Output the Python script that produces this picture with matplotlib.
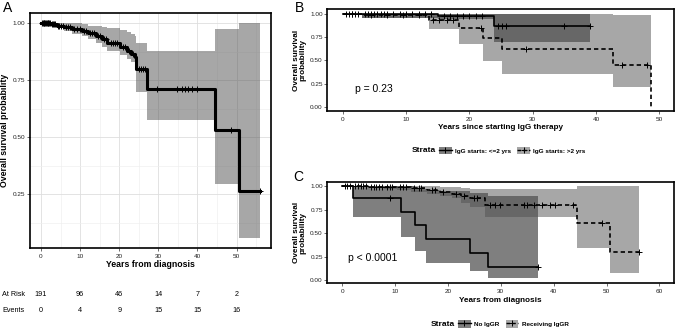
import numpy as np
import matplotlib
matplotlib.use('Agg')
import matplotlib.pyplot as plt
from matplotlib.patches import Patch
from matplotlib.lines import Line2D
from matplotlib.transforms import blended_transform_factory

plt.rcParams['font.family'] = ['Liberation Sans', 'DejaVu Sans']

# ---- Panel A: whole cohort ----
a_time = [0, 2.5, 4.0, 6.0, 8.0, 10.5, 12.0, 14.0, 15.5, 17.0, 20.3, 22.0, 23.0, 24.0, 24.4, 27.1, 44.4, 50.6, 56.0]
a_surv = [1.0, 0.995, 0.99, 0.982, 0.975, 0.967, 0.957, 0.945, 0.93, 0.915, 0.895, 0.88, 0.865, 0.853, 0.80, 0.712, 0.534, 0.267, 0.267]
a_upper = [1.0, 1.0, 1.0, 1.0, 1.0, 0.995, 0.99, 0.99, 0.985, 0.98, 0.97, 0.96, 0.955, 0.945, 0.912, 0.88, 0.974, 1.0, 1.0]
a_lower = [1.0, 0.985, 0.978, 0.965, 0.955, 0.945, 0.93, 0.915, 0.895, 0.88, 0.86, 0.845, 0.83, 0.82, 0.70, 0.576, 0.295, 0.06, 0.06]
a_censor = [0.3, 0.5, 0.7, 0.9, 1.1, 1.3, 1.5, 1.7, 1.9, 2.1, 2.3, 2.7, 3.0, 3.3, 3.6, 4.3, 4.7, 5.2, 5.6,
            6.5, 7.0, 7.5, 8.5, 9.2, 10.0, 11.0, 11.5, 12.5, 13.0, 13.5, 14.5, 15.0, 16.0, 16.5, 18.0,
            18.5, 19.0, 19.5, 21.0, 21.5, 22.5, 23.5, 25.0, 25.5, 26.0, 26.5, 29.6, 34.7, 36.0, 36.8,
            37.6, 38.5, 40.0, 48.6, 56.0]
risk_times = [0, 10, 20, 30, 40, 50]
at_risk = [191, 96, 46, 14, 7, 2]
events = [0, 4, 9, 15, 15, 16]

# ---- Panel B: by time to IgG start ----
b_labels = ['IgG starts: <=2 yrs', 'IgG starts: >2 yrs']
b1_time = [0, 3.0, 15.0, 23.9, 39.1]
b1_surv = [1.0, 0.99, 0.975, 0.87, 0.87]
b1_upper = [1.0, 1.0, 1.0, 1.0, 1.0]
b1_lower = [1.0, 0.955, 0.945, 0.693, 0.693]
b1_censor = [0.5, 1.0, 1.5, 2.0, 2.5, 3.5, 4.0, 4.5, 5.0, 5.5, 6.0, 6.5, 7.0, 8.0, 9.0, 10.0,
             11.0, 12.0, 13.0, 14.0, 16.0, 17.0, 18.0, 19.0, 20.0, 21.0, 22.0, 24.6, 25.1,
             25.8, 35.0, 39.1]
b2_time = [0, 3.1, 13.6, 18.3, 22.2, 25.2, 42.6, 48.7]
b2_surv = [1.0, 0.98, 0.93, 0.85, 0.735, 0.62, 0.45, 0.0]
b2_upper = [1.0, 1.0, 1.0, 1.0, 1.0, 1.0, 0.982, 0.982]
b2_lower = [1.0, 0.947, 0.834, 0.672, 0.495, 0.357, 0.216, 0.216]
b2_censor = [1.5, 4.5, 7.0, 9.5, 12.0, 14.2, 15.3, 16.5, 17.5, 21.8, 29.0, 44.1, 48.0]
b_pval = 'p = 0.23'

# ---- Panel C: by IgG replacement ----
c_labels = ['No IgGR', 'Receiving IgGR']
c1_time = [0, 2.1, 11.1, 13.8, 15.8, 24.2, 27.5, 37.1]
c1_surv = [1.0, 0.875, 0.729, 0.583, 0.4375, 0.292, 0.146, 0.146]
c1_upper = [1.0, 1.0, 1.0, 0.97, 0.95, 0.926, 0.89, 0.89]
c1_lower = [1.0, 0.674, 0.463, 0.313, 0.19, 0.095, 0.025, 0.025]
c1_censor = [9.1, 37.1]
c2_time = [0, 2.0, 5.0, 8.0, 10.4, 13.0, 16.0, 18.5, 20.7, 22.5, 24.2, 27.0, 44.5, 50.7, 56.1]
c2_surv = [1.0, 0.997, 0.993, 0.99, 0.985, 0.975, 0.955, 0.94, 0.92, 0.895, 0.875, 0.80, 0.604, 0.30, 0.30]
c2_upper = [1.0, 1.0, 1.0, 1.0, 1.0, 1.0, 0.995, 0.99, 0.985, 0.975, 0.965, 0.965, 1.0, 1.0, 1.0]
c2_lower = [1.0, 0.985, 0.975, 0.965, 0.955, 0.94, 0.915, 0.895, 0.87, 0.82, 0.78, 0.674, 0.34, 0.075, 0.075]
c2_censor = [0.5, 1.0, 1.5, 2.5, 3.0, 3.5, 4.0, 4.5, 5.5, 6.0, 6.5, 7.0, 7.5, 8.5, 9.0, 9.5, 11.0,
             11.5, 12.0, 13.5, 14.5, 15.0, 17.0, 17.5, 19.0, 21.5, 23.0, 25.0, 25.5, 28.0, 28.9,
             29.9, 34.3, 34.9, 36.2, 37.7, 39.3, 40.2, 43.7, 49.1, 56.1]
c_pval = 'p < 0.0001'

DARK = ('black', 0.5)
LIGHT = ('#515151', 0.5)


def km(ax, time, surv, lower, upper, censor, fill, ls='-', lw=1.2, ms=4.5, dashes=None):
    """Curva de Kaplan-Meier con banda de confianza y marcas de censura."""
    time = np.asarray(time)
    surv = np.asarray(surv)
    ax.fill_between(time, lower, upper, step='post', color=fill[0], alpha=fill[1],
                    lw=0, edgecolor='none')
    line, = ax.step(time, surv, where='post', color='black', ls=ls, lw=lw)
    if dashes is not None:
        line.set_dashes(dashes)
    idx = np.searchsorted(time, censor, side='right') - 1
    ax.plot(censor, surv[idx], ls='none', marker='+', color='black', ms=ms, mew=0.7)


def style(ax, tick_size=4.6):
    for sp in ax.spines.values():
        sp.set_linewidth(1.2)
        sp.set_color('black')
    ax.tick_params(labelsize=tick_size, length=2, width=0.5, color='#333333',
                   labelcolor='#222222')
    ax.tick_params(axis='y', pad=1.2)
    ax.tick_params(axis='x', pad=2.2)


fig = plt.figure(figsize=(6.76, 3.31), dpi=100)
W, H = 676, 331


def box(l, t, r, b):
    return [l / W, 1 - b / H, (r - l) / W, (b - t) / H]


# ---------- A ----------
axA = fig.add_axes(box(30, 13, 271, 248))
axA.set_xlim(-2.8, 58.8)
axA.set_ylim(0.015, 1.045)
axA.set_xticks(range(0, 51, 10))
axA.set_xticks(range(5, 56, 10), minor=True)
axA.set_yticks([0.25, 0.5, 0.75, 1.0])
axA.set_yticks([0.125, 0.375, 0.625, 0.875], minor=True)
axA.set_yticklabels(['0.25', '0.50', '0.75', '1.00'])
axA.grid(which='major', color='#dedede', lw=0.6)
axA.grid(which='minor', color='#efefef', lw=0.45)
axA.tick_params(which='minor', length=0)
axA.set_axisbelow(True)
km(axA, a_time, a_surv, a_lower, a_upper, a_censor, LIGHT, lw=2.2, ms=4.5)
style(axA)
axA.set_xlabel('Years from diagnosis', fontsize=6.3, fontweight='bold')
axA.xaxis.set_label_coords(0.5, -0.072)
axA.xaxis.label.set_va('center')
axA.set_ylabel('Overall survival probability', fontsize=6.3, fontweight='bold')
axA.yaxis.set_label_coords(-0.104, 0.5)
axA.yaxis.label.set_va('center')

# risk table under A
tr = blended_transform_factory(axA.transData, fig.transFigure)
for lab, row, yy in [('At Risk', at_risk, 295), ('Events', events, 310.7)]:
    fig.text(2.5 / W, 1 - yy / H, lab, fontsize=5.2, va='center', ha='left')
    for t, v in zip(risk_times, row):
        axA.text(t, 1 - yy / H, str(v), transform=tr, fontsize=5.2, ha='center',
                 va='center', clip_on=False)

fig.text(2.5 / W, 1 - 8 / H, 'A', fontsize=10, va='center', ha='left')

# ---------- B ----------
axB = fig.add_axes(box(327.3, 9.3, 674, 110.8))
axB.set_xlim(-2.4, 52.3)
axB.set_ylim(-0.04, 1.045)
axB.set_xticks(range(0, 51, 10))
axB.set_yticks([0, 0.25, 0.5, 0.75, 1.0])
axB.set_yticklabels(['0.00', '0.25', '0.50', '0.75', '1.00'])
km(axB, b1_time, b1_surv, b1_lower, b1_upper, b1_censor, DARK, lw=1.2, ms=4)
km(axB, b2_time, b2_surv, b2_lower, b2_upper, b2_censor, LIGHT, ls='--', lw=1.2, ms=4,
   dashes=(2.6, 1.8))
style(axB)
axB.set_xlabel('Years since starting IgG therapy', fontsize=5.9, fontweight='bold')
axB.xaxis.set_label_coords(0.5, -0.168)
axB.xaxis.label.set_va('center')
axB.set_ylabel('Overall survival\nprobability', fontsize=5.9, fontweight='bold',
               linespacing=1.0)
axB.yaxis.set_label_coords(-0.08, 0.5)
axB.yaxis.label.set_va('center')
axB.text(2.0, 0.19, b_pval, fontsize=7.5, ha='left', va='center')
fig.text(295 / W, 1 - 8 / H, 'B', fontsize=10, va='center', ha='left')

# ---------- C ----------
axC = fig.add_axes(box(327.3, 181.7, 674.3, 283.3))
axC.set_xlim(-2.8, 62.8)
axC.set_ylim(-0.03, 1.045)
axC.set_xticks(range(0, 61, 10))
axC.set_yticks([0, 0.25, 0.5, 0.75, 1.0])
axC.set_yticklabels(['0.00', '0.25', '0.50', '0.75', '1.00'])
km(axC, c1_time, c1_surv, c1_lower, c1_upper, c1_censor, DARK, lw=1.2, ms=4)
km(axC, c2_time, c2_surv, c2_lower, c2_upper, c2_censor, LIGHT, ls='--', lw=1.2, ms=4,
   dashes=(2.6, 1.8))
style(axC)
axC.set_xlabel('Years from diagnosis', fontsize=5.9, fontweight='bold')
axC.xaxis.set_label_coords(0.5, -0.171)
axC.xaxis.label.set_va('center')
axC.set_ylabel('Overall survival\nprobability', fontsize=5.9, fontweight='bold',
               linespacing=1.0)
axC.yaxis.set_label_coords(-0.08, 0.5)
axC.yaxis.label.set_va('center')
axC.text(1.2, 0.24, c_pval, fontsize=7.5, ha='left', va='center')
fig.text(293 / W, 1 - 177 / H, 'C', fontsize=10, va='center', ha='left')


# ---------- legends ----------
def strata_legend(labels, x_strata, x_key, y):
    handles = [
        (Patch(facecolor=DARK[0], alpha=DARK[1], edgecolor='none'),
         Line2D([], [], color='black', lw=1.0, marker='+', ms=5, mew=0.7)),
        (Patch(facecolor=LIGHT[0], alpha=LIGHT[1], edgecolor='none'),
         Line2D([], [], color='black', lw=1.0, ls=(0, (2.5, 1.6)), marker='+', ms=5, mew=0.7)),
    ]
    fig.text(x_strata / W, 1 - y / H, 'Strata', fontsize=6, fontweight='bold',
             ha='right', va='center')
    leg = fig.legend(handles, labels, loc='center left', bbox_to_anchor=(x_key / W, 1 - y / H),
                     ncol=2, frameon=False, prop={'size': 4.6, 'weight': 'bold'},
                     handlelength=2.0, handleheight=1.4, handletextpad=0.5,
                     columnspacing=1.0, borderpad=0, borderaxespad=0)
    return leg


strata_legend(b_labels, 436, 439, 150.7)
strata_legend(c_labels, 455, 458, 324)

fig.savefig('out.png', dpi=100)
